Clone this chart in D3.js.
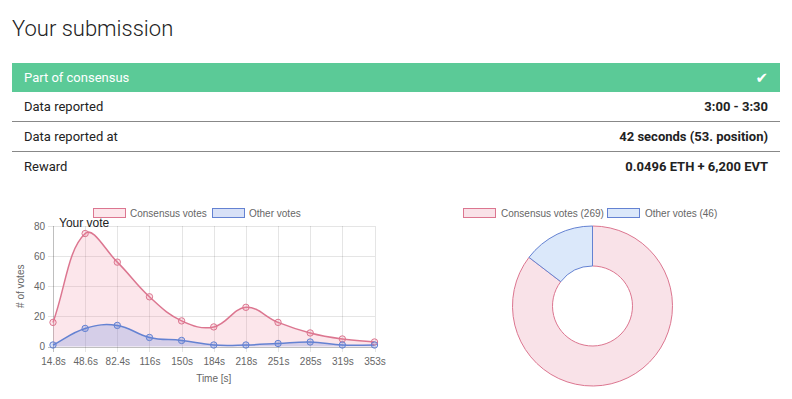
<!DOCTYPE html>
<html>
<head>
<meta charset="utf-8">
<script src="https://cdn.jsdelivr.net/npm/d3@7"></script>
<style>
  body { margin: 0; background: #fff; }
  svg { display: block; }
</style>
</head>
<body>
<svg id="chart" width="792" height="399"></svg>
<script>
// table rows
var rowLabels = ["Data reported", "Data reported at", "Reward"];
var rowValues = ["3:00 - 3:30", "42 seconds (53. position)", "0.0496 ETH + 6,200 EVT"];

// line chart
var times = ["14.8s", "48.6s", "82.4s", "116s", "150s", "184s", "218s", "251s", "285s", "319s", "353s"];
var consensusVotes = [16, 75, 56, 33, 17, 13, 26, 16, 9, 5, 3];
var otherVotes = [1, 12, 14, 6, 4, 1, 1, 2, 3, 1, 1];
var yTicks = [0, 20, 40, 60, 80];

// donut
var pieLabels = ["Consensus votes (269)", "Other votes (46)"];
var pieValues = [269, 46];

var pinkLine = "rgb(220,118,144)", pinkFill = "rgba(240,130,155,0.2)";
var blueLine = "rgb(100,130,210)", blueFill = "rgba(90,130,220,0.24)";

var svg = d3.select("#chart");

// ---- header + table ----
svg.append("text")
    .attr("x", 12).attr("y", 36)
    .style("font-family", "Roboto").style("font-weight", 300)
    .style("font-size", "22px").style("fill", "#222")
    .text("Your submission");

svg.append("rect")
    .attr("x", 12).attr("y", 63).attr("width", 768).attr("height", 29)
    .style("fill", "#5bca97");
svg.append("text")
    .attr("x", 24).attr("y", 82)
    .style("font-family", "Roboto").style("font-size", "13px").style("fill", "#fff")
    .text("Part of consensus");
svg.append("text")
    .attr("x", 768).attr("y", 83).attr("text-anchor", "end")
    .style("font-family", "DejaVu Sans").style("font-size", "15px").style("fill", "#fff")
    .text("\u2714");

var rows = svg.selectAll("g.row")
    .data(rowLabels)
    .enter().append("g")
    .attr("class", "row")
    .attr("transform", function(d, i){ return "translate(0," + (92 + i * 30) + ")"; });
rows.append("text")
    .attr("x", 24).attr("y", 19)
    .style("font-family", "Roboto").style("font-size", "13px").style("fill", "#222")
    .text(function(d){ return d; });
rows.append("text")
    .attr("x", 768).attr("y", 19).attr("text-anchor", "end")
    .style("font-family", "Roboto").style("font-weight", 700)
    .style("font-size", "13px").style("fill", "#222")
    .text(function(d, i){ return rowValues[i]; });
rows.filter(function(d, i){ return i < rowLabels.length - 1; })
    .append("line")
    .attr("x1", 12).attr("x2", 780).attr("y1", 29.5).attr("y2", 29.5)
    .style("stroke", "#888").style("stroke-width", 1);

// ---- line chart ----
var font = "Liberation Sans, Arial, sans-serif";
var plotL = 53, plotR = 374.5, plotT = 226, plotB = 346.5;
var x = d3.scalePoint().domain(times).range([plotL, plotR]);
var y = d3.scaleLinear().domain([0, 80]).range([plotB, plotT]);

var yAxis = svg.append("g")
    .attr("transform", "translate(" + (plotL - 5) + ",0)")
    .call(d3.axisLeft(y).tickValues(yTicks).tickSize(-(plotR - plotL + 5)).tickPadding(3));
var xAxis = svg.append("g")
    .attr("transform", "translate(0," + (plotB + 5) + ")")
    .call(d3.axisBottom(x).tickSize(-(plotB - plotT + 5)).tickPadding(6));
[yAxis, xAxis].forEach(function(ax){
    ax.select(".domain").remove();
    ax.selectAll("line").style("stroke", "rgba(0,0,0,0.1)").attr("shape-rendering", "crispEdges");
    ax.selectAll("text").style("font-family", font).style("font-size", "10px").style("fill", "#666");
});
yAxis.selectAll(".tick").filter(function(d){ return d === 0; })
    .select("line").style("stroke", "rgba(0,0,0,0.25)");
xAxis.selectAll(".tick").filter(function(d, i){ return i === 0; })
    .select("line").style("stroke", "rgba(0,0,0,0.25)");

// spline like chart.js (tension 0.4, control points capped to the plot area)
function splineCurve(context){
    var tension = 0.4;
    return {
        areaStart: function(){ this._line = 0; },
        areaEnd: function(){ this._line = NaN; },
        lineStart: function(){ this._pts = []; },
        point: function(px, py){ this._pts.push([+px, +py]); },
        lineEnd: function(){
            var p = this._pts, n = p.length;
            if (n) {
                var cps = p.map(function(cur, i){
                    var prev = p[i - 1] || cur, next = p[i + 1] || cur;
                    var d01 = Math.hypot(cur[0] - prev[0], cur[1] - prev[1]);
                    var d12 = Math.hypot(next[0] - cur[0], next[1] - cur[1]);
                    var s01 = d01 / (d01 + d12) || 0, s12 = d12 / (d01 + d12) || 0;
                    var fa = tension * s01, fb = tension * s12;
                    var clampY = function(v){ return Math.max(plotT, Math.min(plotB, v)); };
                    return {
                        a: [cur[0] - fa * (next[0] - prev[0]), clampY(cur[1] - fa * (next[1] - prev[1]))],
                        b: [cur[0] + fb * (next[0] - prev[0]), clampY(cur[1] + fb * (next[1] - prev[1]))]
                    };
                });
                if (this._line) context.lineTo(p[0][0], p[0][1]);
                else context.moveTo(p[0][0], p[0][1]);
                for (var i = 1; i < n; i++) {
                    context.bezierCurveTo(cps[i - 1].b[0], cps[i - 1].b[1], cps[i].a[0], cps[i].a[1], p[i][0], p[i][1]);
                }
            }
            if (this._line || (this._line !== 0 && n === 1)) context.closePath();
            this._line = 1 - this._line;
        }
    };
}

var series = [
    { values: consensusVotes, line: pinkLine, fill: pinkFill },
    { values: otherVotes, line: blueLine, fill: blueFill }
];
series.forEach(function(s){
    var area = d3.area()
        .x(function(d, i){ return x(times[i]); })
        .y0(y(0))
        .y1(function(d){ return y(d); })
        .curve(splineCurve);
    var line = d3.line()
        .x(function(d, i){ return x(times[i]); })
        .y(function(d){ return y(d); })
        .curve(splineCurve);
    svg.append("path").datum(s.values).attr("d", area).style("fill", s.fill);
    svg.append("path").datum(s.values).attr("d", line)
        .style("fill", "none").style("stroke", s.line).style("stroke-width", 1.5);
});
series.forEach(function(s){
    svg.selectAll(null)
        .data(s.values)
        .enter().append("circle")
        .attr("cx", function(d, i){ return x(times[i]); })
        .attr("cy", function(d){ return y(d); })
        .attr("r", 3.2)
        .style("fill", s.fill).style("stroke", s.line).style("stroke-width", 1);
});

svg.append("text")
    .attr("transform", "translate(24," + ((plotT + plotB) / 2) + ") rotate(-90)")
    .attr("text-anchor", "middle")
    .style("font-family", font).style("font-size", "10px").style("fill", "#666")
    .text("# of votes");
svg.append("text")
    .attr("x", (plotL + plotR) / 2).attr("y", 382).attr("text-anchor", "middle")
    .style("font-family", font).style("font-size", "10px").style("fill", "#666")
    .text("Time [s]");

// legend
var lineLegend = [
    { label: "Consensus votes", x: 93, line: pinkLine, fill: pinkFill },
    { label: "Other votes", x: 212, line: blueLine, fill: blueFill }
];
var lg = svg.selectAll("g.lleg").data(lineLegend).enter().append("g")
    .attr("transform", function(d){ return "translate(" + d.x + ",208)"; });
lg.append("rect").attr("x", 0.5).attr("y", 0.5).attr("width", 32).attr("height", 9)
    .style("fill", function(d){ return d.fill; }).style("stroke", function(d){ return d.line; });
lg.append("text").attr("x", 37).attr("y", 8.5)
    .style("font-family", font).style("font-size", "10px").style("fill", "#666")
    .text(function(d){ return d.label; });

svg.append("text")
    .attr("x", 59).attr("y", 227)
    .style("font-family", font).style("font-size", "12px").style("fill", "#222")
    .text("Your vote");

// ---- donut ----
var pieColors = [pinkLine, blueLine];
var pieFills = ["rgb(249,226,232)", "rgb(219,232,250)"];
var cx = 592.5, cy = 306;
var arcs = d3.pie().sort(null)(pieValues);
var arc = d3.arc().innerRadius(40).outerRadius(80);
svg.append("g")
    .attr("transform", "translate(" + cx + "," + cy + ")")
    .selectAll("path")
    .data(arcs)
    .enter().append("path")
    .attr("d", arc)
    .style("fill", function(d, i){ return pieFills[i]; })
    .style("stroke", function(d, i){ return pieColors[i]; })
    .style("stroke-width", 1);

var pieLegend = [
    { label: pieLabels[0], x: 463 },
    { label: pieLabels[1], x: 607 }
];
var pg = svg.selectAll("g.pleg").data(pieLegend).enter().append("g")
    .attr("transform", function(d){ return "translate(" + d.x + ",208)"; });
pg.append("rect").attr("x", 0.5).attr("y", 0.5).attr("width", 32).attr("height", 9)
    .style("fill", function(d, i){ return pieFills[i]; })
    .style("stroke", function(d, i){ return pieColors[i]; });
pg.append("text").attr("x", 38).attr("y", 8.5)
    .style("font-family", font).style("font-size", "10px").style("fill", "#666")
    .text(function(d){ return d.label; });
</script>
</body>
</html>
